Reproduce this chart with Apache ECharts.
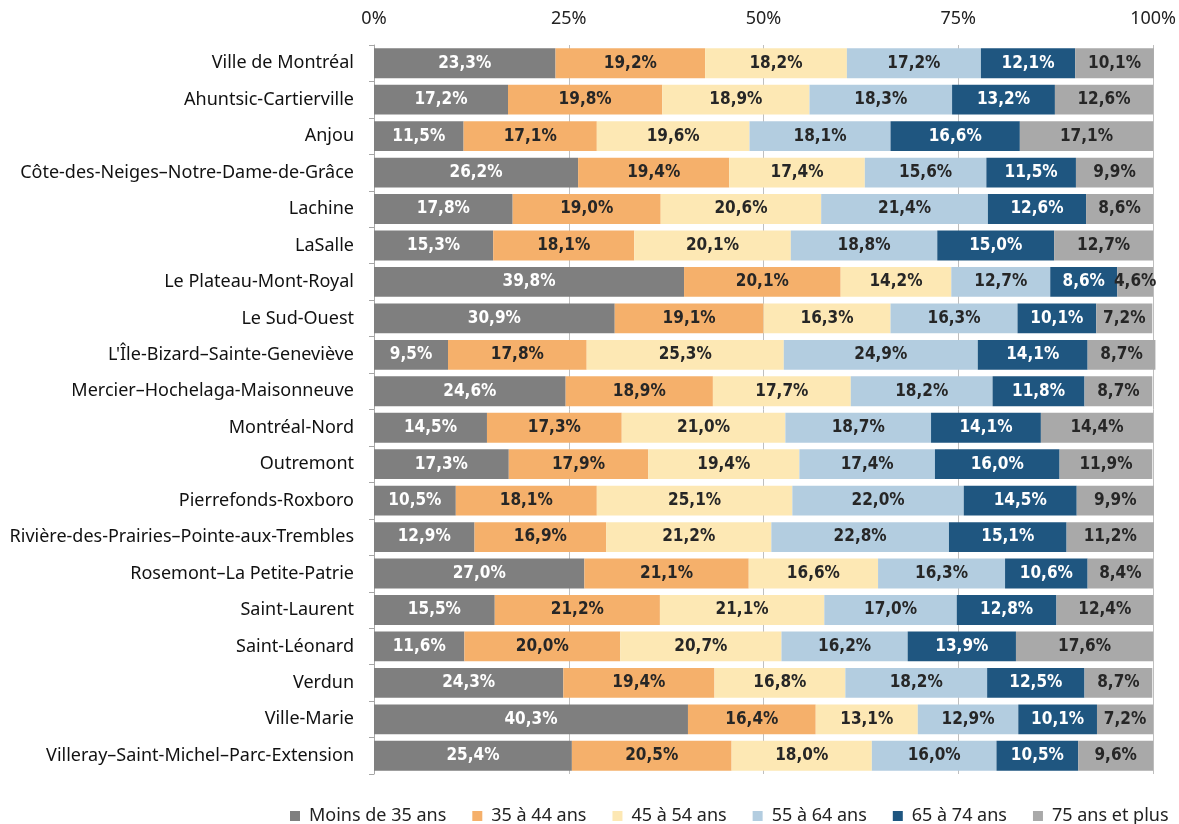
<!DOCTYPE html>
<html>
<head>
<meta charset="utf-8">
<script src="https://cdn.jsdelivr.net/npm/echarts@6/dist/echarts.min.js"></script>
<style>
  html, body { margin: 0; padding: 0; background: #fff; }
  #chart { width: 1179px; height: 824px; }
</style>
</head>
<body>
<div id="chart"></div>
<script>
// boroughs, top to bottom
var boroughs = [
    'Ville de Montréal', 'Ahuntsic-Cartierville', 'Anjou',
    'Côte-des-Neiges–Notre-Dame-de-Grâce', 'Lachine', 'LaSalle',
    'Le Plateau-Mont-Royal', 'Le Sud-Ouest', 'L\'Île-Bizard–Sainte-Geneviève',
    'Mercier–Hochelaga-Maisonneuve', 'Montréal-Nord', 'Outremont',
    'Pierrefonds-Roxboro', 'Rivière-des-Prairies–Pointe-aux-Trembles',
    'Rosemont–La Petite-Patrie', 'Saint-Laurent', 'Saint-Léonard',
    'Verdun', 'Ville-Marie', 'Villeray–Saint-Michel–Parc-Extension'
];

var ageGroups = ['Moins de 35 ans', '35 à 44 ans', '45 à 54 ans', '55 à 64 ans', '65 à 74 ans', '75 ans et plus'];

var under35   = [23.3, 17.2, 11.5, 26.2, 17.8, 15.3, 39.8, 30.9, 9.5, 24.6, 14.5, 17.3, 10.5, 12.9, 27.0, 15.5, 11.6, 24.3, 40.3, 25.4];
var age35to44 = [19.2, 19.8, 17.1, 19.4, 19.0, 18.1, 20.1, 19.1, 17.8, 18.9, 17.3, 17.9, 18.1, 16.9, 21.1, 21.2, 20.0, 19.4, 16.4, 20.5];
var age45to54 = [18.2, 18.9, 19.6, 17.4, 20.6, 20.1, 14.2, 16.3, 25.3, 17.7, 21.0, 19.4, 25.1, 21.2, 16.6, 21.1, 20.7, 16.8, 13.1, 18.0];
var age55to64 = [17.2, 18.3, 18.1, 15.6, 21.4, 18.8, 12.7, 16.3, 24.9, 18.2, 18.7, 17.4, 22.0, 22.8, 16.3, 17.0, 16.2, 18.2, 12.9, 16.0];
var age65to74 = [12.1, 13.2, 16.6, 11.5, 12.6, 15.0, 8.6, 10.1, 14.1, 11.8, 14.1, 16.0, 14.5, 15.1, 10.6, 12.8, 13.9, 12.5, 10.1, 10.5];
var over75    = [10.1, 12.6, 17.1, 9.9, 8.6, 12.7, 4.6, 7.2, 8.7, 8.7, 14.4, 11.9, 9.9, 11.2, 8.4, 12.4, 17.6, 8.7, 7.2, 9.6];

var xTicks = [0, 25, 50, 75, 100];

var colors = ['#7f7f7f', '#f5b06b', '#fde8b4', '#b3cde0', '#1f5680', '#a9a9a9'];
var labelColors = ['#ffffff', '#262626', '#262626', '#262626', '#ffffff', '#262626'];

var chart = echarts.init(document.getElementById('chart'));

//build one bar series per age group
function makeSeries(name, values, idx) {
    return {
        name: name,
        type: 'bar',
        stack: 'total',
        barWidth: '82%',
        clip: false,
        data: values,
        itemStyle: { color: colors[idx] },
        label: {
            show: true,
            position: 'inside',
            color: labelColors[idx],
            fontFamily: '"Liberation Sans Narrow", "DejaVu Sans Condensed", sans-serif',
            fontWeight: 'bold',
            fontSize: 17,
            formatter: function (p) {
                return p.value.toFixed(1).replace('.', ',') + '%';
            }
        },
        emphasis: { disabled: true }
    };
}

var allValues = [under35, age35to44, age45to54, age55to64, age65to74, over75];
var series = [];
for (var i = 0; i < ageGroups.length; i++) {
    series.push(makeSeries(ageGroups[i], allValues[i], i));
}

var option = {
    animation: false,
    textStyle: { fontFamily: '"Noto Sans", sans-serif' },
    grid: { left: 374, right: 25, top: 45, bottom: 50 },
    legend: {
        top: 802,
        left: 290,
        width: 889,
        padding: [5, 0, 5, 0],
        itemWidth: 10,
        itemHeight: 10,
        itemGap: 26,
        icon: 'rect',
        textStyle: { fontSize: 18, color: '#222', fontFamily: '"Noto Sans", sans-serif', padding: [0, 0, 0, 4] },
        data: ageGroups
    },
    xAxis: {
        type: 'value',
        position: 'top',
        min: xTicks[0],
        max: xTicks[xTicks.length - 1],
        interval: 25,
        axisLine: { show: false },
        axisTick: { show: false },
        splitLine: { show: true, lineStyle: { color: '#bfbfbf', width: 1 } },
        axisLabel: {
            fontSize: 18,
            color: '#222',
            margin: 17,
            formatter: function (v) { return v + '%'; }
        }
    },
    yAxis: {
        type: 'category',
        inverse: true,
        data: boroughs,
        axisLine: { show: true, lineStyle: { color: '#a6a6a6' } },
        axisTick: { show: true, length: 5, lineStyle: { color: '#a6a6a6' } },
        axisLabel: { fontSize: 18, color: '#111', margin: 20 }
    },
    series: series
};

chart.setOption(option);
</script>
</body>
</html>
